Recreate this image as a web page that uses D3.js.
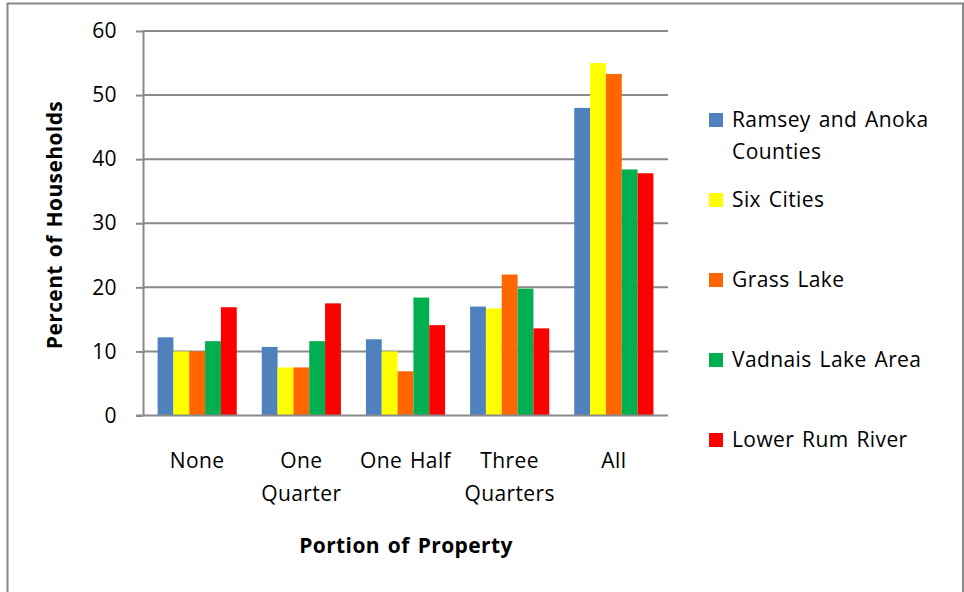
<!DOCTYPE html>
<html>
<head>
<meta charset="utf-8">
<script src="https://cdn.jsdelivr.net/npm/d3@7"></script>
<style>
  html, body { margin: 0; padding: 0; background: #fff; }
  svg { display: block; }
  text { font-family: "Open Sans", Lato, sans-serif; fill: #000; letter-spacing: 0.4px; word-spacing: 2px; }
</style>
</head>
<body>
<svg id="chart" width="964" height="592"></svg>
<script>
// Portions of property and survey areas
const categories = [["None"], ["One", "Quarter"], ["One Half"], ["Three", "Quarters"], ["All"]];
const seriesNames = ["Ramsey and Anoka Counties", "Six Cities", "Grass Lake", "Vadnais Lake Area", "Lower Rum River"];
const seriesLegendLines = [["Ramsey and Anoka", "Counties"], ["Six Cities"], ["Grass Lake"], ["Vadnais Lake Area"], ["Lower Rum River"]];
const seriesColors = ["#4F81BD", "#FFFF00", "#FF6600", "#00B050", "#FF0000"];

// Percent of households, one array per area (None, One Quarter, One Half, Three Quarters, All)
const ramseyAnoka = [12.2, 10.7, 11.9, 17.0, 48.0];
const sixCities   = [10.0, 7.5, 10.0, 16.7, 55.0];
const grassLake   = [10.0, 7.5, 6.9, 22.0, 53.3];
const vadnais     = [11.6, 11.6, 18.4, 19.8, 38.4];
const lowerRum    = [16.9, 17.5, 14.1, 13.6, 37.8];
const seriesValues = [ramseyAnoka, sixCities, grassLake, vadnais, lowerRum];

const yTicks = [0, 10, 20, 30, 40, 50, 60];
const fontSize = 21;

const svg = d3.select("#chart");

// outer chart frame
svg.append("rect")
  .attr("x", 7.5).attr("y", 3.5)
  .attr("width", 955.5).attr("height", 600)
  .attr("fill", "none").attr("stroke", "#888").attr("stroke-width", 2);

const plot = { left: 143, right: 668, top: 31, bottom: 415.5 };

const x = d3.scaleBand()
  .domain(categories.map((c, i) => i))
  .range([plot.left, plot.right])
  .paddingInner(0.24)
  .paddingOuter(0.14);

const xSub = d3.scaleBand()
  .domain(seriesNames.map((s, i) => i))
  .range([0, x.bandwidth()]);

const y = d3.scaleLinear().domain([0, 60]).range([plot.bottom, plot.top]);

// horizontal gridlines
svg.append("g")
  .selectAll("line")
  .data(yTicks.filter(t => t > 0))
  .join("line")
  .attr("x1", plot.left).attr("x2", plot.right)
  .attr("y1", d => y(d)).attr("y2", d => y(d))
  .attr("stroke", "#8a8a8a").attr("stroke-width", 2);

// y axis with outward ticks
const yAxis = svg.append("g")
  .attr("transform", `translate(${plot.left},0)`)
  .call(d3.axisLeft(y).tickValues(yTicks).tickSize(7).tickPadding(19).tickSizeOuter(0));
yAxis.select(".domain").attr("stroke", "#8a8a8a").attr("stroke-width", 2);
yAxis.selectAll(".tick line").attr("stroke", "#8a8a8a").attr("stroke-width", 2);
yAxis.selectAll(".tick text")
  .style("font-family", "'Open Sans', sans-serif").attr("font-size", fontSize).attr("fill", "#000");

// bars
const groups = svg.append("g")
  .selectAll("g")
  .data(seriesValues)
  .join("g")
  .attr("fill", (d, i) => seriesColors[i]);

groups.selectAll("rect")
  .data((vals, si) => vals.map((v, ci) => ({ v, ci, si })))
  .join("rect")
  .attr("x", d => x(d.ci) + xSub(d.si))
  .attr("width", xSub.bandwidth())
  .attr("y", d => y(d.v))
  .attr("height", d => y(0) - y(d.v));

// baseline
svg.append("line")
  .attr("x1", plot.left - 7).attr("x2", plot.right)
  .attr("y1", y(0)).attr("y2", y(0))
  .attr("stroke", "#8a8a8a").attr("stroke-width", 2);

// category labels
const catLabels = svg.append("g")
  .selectAll("text")
  .data(categories)
  .join("text")
  .attr("x", (d, i) => x(i) + x.bandwidth() / 2)
  .attr("y", 468)
  .attr("text-anchor", "middle")
  .attr("font-size", fontSize);
catLabels.selectAll("tspan")
  .data(d => d)
  .join("tspan")
  .attr("x", function () { return d3.select(this.parentNode).attr("x"); })
  .attr("dy", (d, i) => i === 0 ? 0 : 33)
  .text(d => d);

// axis titles
svg.append("text")
  .attr("x", 406).attr("y", 553)
  .attr("text-anchor", "middle")
  .attr("font-size", fontSize).attr("font-weight", "bold")
  .text("Portion of Property");

svg.append("text")
  .attr("transform", "translate(62,225) rotate(-90)")
  .attr("text-anchor", "middle")
  .attr("font-size", fontSize).attr("font-weight", "bold")
  .text("Percent of Households");

// legend
const legendY = [120, 200, 280, 360, 440];
const legend = svg.append("g")
  .selectAll("g")
  .data(seriesNames)
  .join("g")
  .attr("transform", (d, i) => `translate(709,${legendY[i]})`);

legend.append("rect")
  .attr("x", 0).attr("y", -7)
  .attr("width", 14).attr("height", 14)
  .attr("fill", (d, i) => seriesColors[i]);

legend.append("text")
  .attr("x", 23).attr("y", 7)
  .attr("font-size", fontSize)
  .selectAll("tspan")
  .data((d, i) => seriesLegendLines[i])
  .join("tspan")
  .attr("x", 23)
  .attr("dy", (d, i) => i === 0 ? 0 : 32)
  .text(d => d);
</script>
</body>
</html>
